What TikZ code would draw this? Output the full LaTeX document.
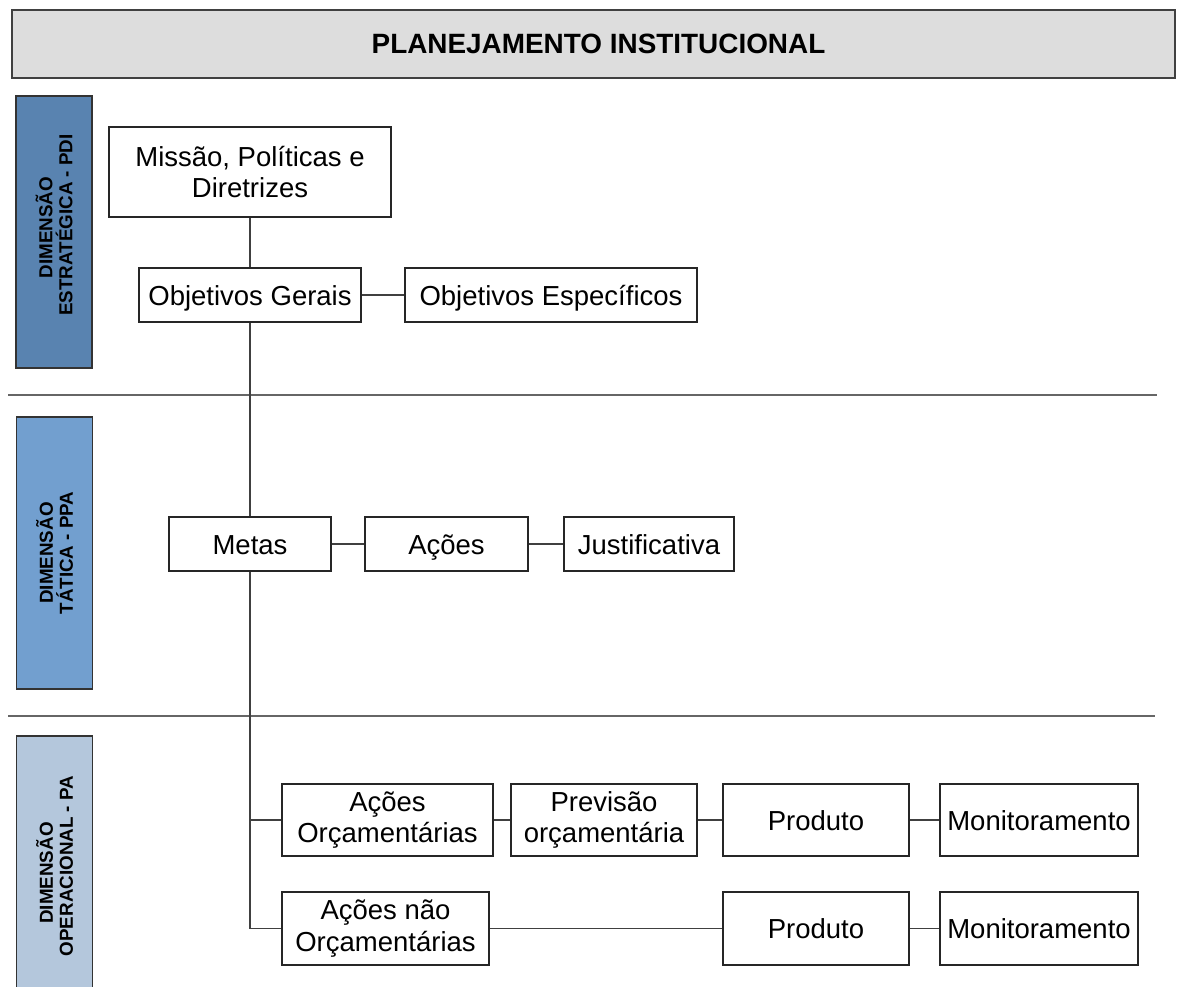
\documentclass[tikz,border=0pt]{standalone}
\usepackage{fontspec}
\setmainfont{Liberation Sans}
\definecolor{blueone}{HTML}{5983B0}
\definecolor{bluetwo}{HTML}{729FCF}
\definecolor{bluethree}{HTML}{B4C7DC}
\definecolor{headgray}{HTML}{DDDDDD}
\begin{document}
\begin{tikzpicture}[x=1pt,y=-1pt,
  box/.style={draw=black!85,line width=1.5pt,fill=white,inner sep=1pt,align=center,font=\fontsize{27.5}{31.5}\selectfont},
  oneline/.style={text height=22pt,text depth=2pt},
  side/.style={draw=black!80,line width=1.5pt,rotate=90,minimum width=272pt,minimum height=76pt,inner sep=0pt,align=center,font=\fontsize{18.8}{20}\selectfont\bfseries},
  link/.style={draw=black!75,line width=1.5pt}]
\useasboundingbox (0,0) rectangle (1177,987);
\clip (0,0) rectangle (1177,987);
\node[draw=black!75,fill=headgray,line width=1.5pt,minimum width=1163pt,minimum height=68pt,font=\fontsize{27.9}{32}\selectfont\bfseries] (titulo) at (593.5,44) {\hspace*{10pt}PLANEJAMENTO INSTITUCIONAL};
% dimensoes
\node[side,fill=blueone] (pdi) at (54,232) {\hspace*{9pt}DIMENSÃO\\\hspace*{14pt}ESTRATÉGICA - PDI};
\node[side,fill=bluetwo] (ppa) at (54.5,553) {DIMENSÃO\\TÁTICA - PPA};
\node[side,fill=bluethree,minimum width=260pt] (pa) at (54.5,866) {DIMENSÃO\hspace*{14pt}\\OPERACIONAL - PA};
\draw[black!60,line width=1.3pt] (8,395) -- (1157,395);
\draw[black!60,line width=1.3pt] (8,716) -- (1155,716);
% PDI
\node[box,minimum width=282pt,minimum height=90pt] (missao) at (250,172) {Missão, Políticas e\\Diretrizes};
\node[box,oneline,minimum width=222pt,minimum height=54pt] (gerais) at (250,295) {Objetivos Gerais};
\node[box,oneline,minimum width=292pt,minimum height=54pt] (especificos) at (551,295) {Objetivos Específicos};
% PPA
\node[box,oneline,minimum width=162pt,minimum height=54pt] (metas) at (250,544) {Metas};
\node[box,oneline,minimum width=163pt,minimum height=54pt] (acoes) at (446.5,544) {Ações};
\node[box,oneline,minimum width=170pt,minimum height=54pt] (justif) at (649,544) {Justificativa};
% PA
\node[box,minimum width=211pt,minimum height=72pt] (acoorc) at (387.5,820) {Ações\\Orçamentárias};
\node[box,minimum width=186pt,minimum height=72pt] (previsao) at (604,820) {Previsão\\orçamentária};
\node[box,oneline,minimum width=186pt,minimum height=72pt] (produto) at (816,820) {Produto};
\node[box,oneline,minimum width=198pt,minimum height=72pt] (monitor) at (1039,820) {Monitoramento};
\node[box,minimum width=207pt,minimum height=73pt] (naoorc) at (385.5,928.5) {Ações não\\Orçamentárias};
\node[box,oneline,minimum width=186pt,minimum height=73pt] (produtob) at (816,928.5) {Produto};
\node[box,oneline,minimum width=198pt,minimum height=73pt] (monitorb) at (1039,928.5) {Monitoramento};
% ligacoes
\draw[link] (missao) -- (gerais);
\draw[link] (gerais) -- (metas);
\draw[link] (metas.south) |- (acoorc.west);
\draw[link] (metas.south) |- (naoorc.west);
\draw[link] (gerais) -- (especificos);
\draw[link] (metas) -- (acoes);
\draw[link] (acoes) -- (justif);
\draw[link] (acoorc) -- (previsao);
\draw[link] (previsao) -- (produto);
\draw[link] (produto) -- (monitor);
\draw[link] (naoorc) -- (produtob);
\draw[link] (produtob) -- (monitorb);
\end{tikzpicture}
\end{document}
